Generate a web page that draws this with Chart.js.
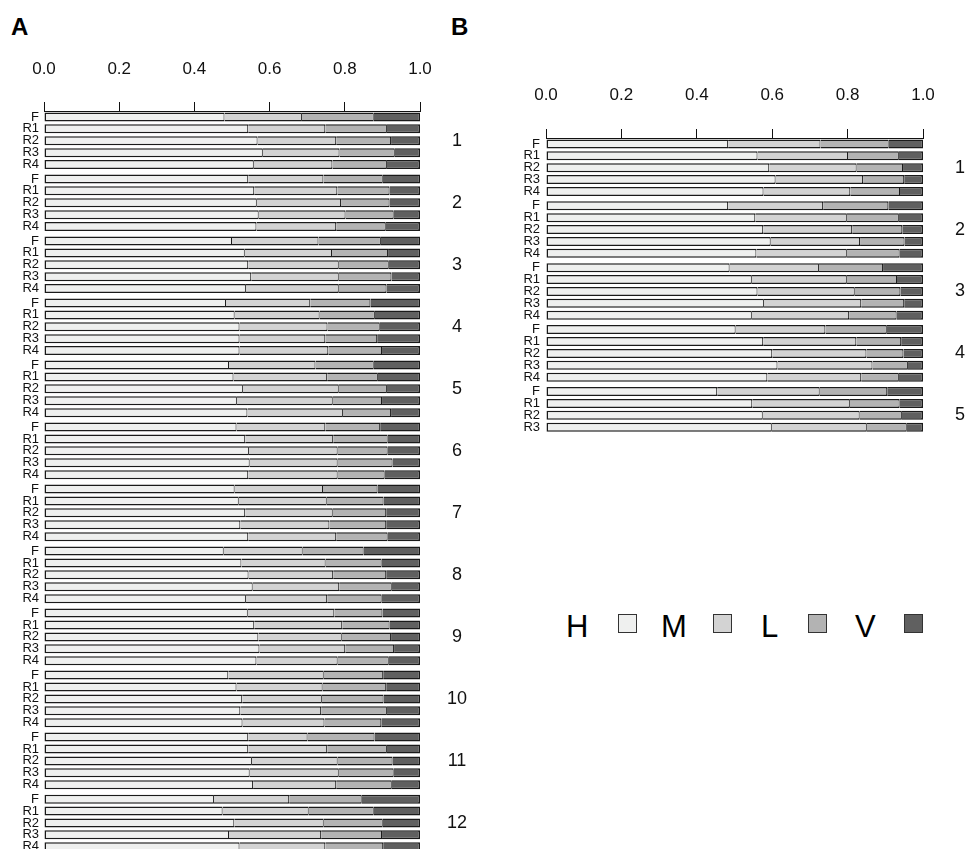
<!DOCTYPE html>
<html>
<head>
<meta charset="utf-8">
<script src="https://cdn.jsdelivr.net/npm/chart.js@4.4.1/dist/chart.umd.min.js"></script>
<style>
html,body{margin:0;padding:0;width:965px;height:849px;overflow:hidden;background:#fff;font-family:"Liberation Sans",Arial,sans-serif;}
#ca{position:absolute;left:0;top:0;}
#cb{position:absolute;left:480px;top:0;}
.title{position:absolute;font-weight:bold;font-size:24px;line-height:24px;color:#000;}
.lt{position:absolute;font-size:31px;line-height:31px;color:#000;top:611px;}
.lb{position:absolute;top:614px;width:17px;height:17px;border:1px solid #333;}
</style>
</head>
<body>
<div class="title" style="left:11px;top:15px;">A</div>
<div class="title" style="left:451px;top:15px;">B</div>
<canvas id="ca" width="480" height="849"></canvas>
<canvas id="cb" width="520" height="435"></canvas>
<div id="legend"></div>
<script>
// ---------- shared ----------
const ROW_LABELS = ['F', 'R1', 'R2', 'R3', 'R4'];
const SERIES = ['H', 'M', 'L', 'V'];
const COLORS = ['#eff0ef', '#d3d3d3', '#b3b3b3', '#606060'];
const X_TICKS = [0, 0.2, 0.4, 0.6, 0.8, 1.0];

// ---------- panel A ----------
const A_GROUPS = ['1','2','3','4','5','6','7','8','9','10','11','12'];
const A_SIZES = [5,5,5,5,5,5,5,5,5,5,5,5];
const A_H = [
  0.480,0.543,0.568,0.582,0.558,  0.543,0.559,0.566,0.571,0.565,
  0.500,0.534,0.543,0.551,0.537,  0.484,0.507,0.520,0.520,0.520,
  0.492,0.504,0.529,0.513,0.541,  0.512,0.535,0.545,0.547,0.543,
  0.507,0.518,0.535,0.522,0.543,  0.478,0.525,0.544,0.555,0.537,
  0.542,0.559,0.570,0.573,0.565,  0.490,0.512,0.527,0.522,0.528,
  0.543,0.543,0.553,0.547,0.556,  0.452,0.475,0.506,0.492,0.520
];
const A_M = [
  0.206,0.205,0.209,0.204,0.209,  0.200,0.221,0.224,0.231,0.212,
  0.230,0.232,0.241,0.233,0.247,  0.224,0.226,0.234,0.228,0.236,
  0.230,0.249,0.255,0.255,0.254,  0.236,0.234,0.236,0.234,0.238,
  0.235,0.234,0.233,0.237,0.234,  0.210,0.224,0.225,0.230,0.216,
  0.230,0.234,0.222,0.228,0.216,  0.254,0.229,0.212,0.215,0.218,
  0.158,0.210,0.228,0.237,0.221,  0.200,0.229,0.238,0.245,0.228
];
const A_L = [
  0.191,0.164,0.146,0.147,0.145,  0.158,0.139,0.129,0.128,0.132,
  0.166,0.149,0.133,0.140,0.127,  0.160,0.147,0.139,0.138,0.143,
  0.155,0.135,0.128,0.131,0.128,  0.146,0.145,0.133,0.146,0.125,
  0.145,0.151,0.142,0.151,0.137,  0.162,0.149,0.141,0.140,0.145,
  0.128,0.126,0.131,0.130,0.136,  0.158,0.169,0.164,0.175,0.151,
  0.178,0.159,0.146,0.146,0.148,  0.193,0.173,0.157,0.162,0.154
];
const A_V = [
  0.123,0.088,0.077,0.067,0.088,  0.099,0.081,0.081,0.070,0.091,
  0.104,0.085,0.083,0.076,0.089,  0.132,0.120,0.107,0.114,0.101,
  0.123,0.112,0.088,0.101,0.077,  0.106,0.086,0.086,0.073,0.094,
  0.113,0.097,0.090,0.090,0.086,  0.150,0.102,0.090,0.075,0.102,
  0.100,0.081,0.077,0.069,0.083,  0.098,0.090,0.097,0.088,0.103,
  0.121,0.088,0.073,0.070,0.075,  0.155,0.123,0.099,0.101,0.098
];

// ---------- panel B ----------
const B_GROUPS = ['1','2','3','4','5'];
const B_SIZES = [5,5,5,5,4];
const B_H = [
  0.483,0.561,0.592,0.609,0.577,  0.483,0.555,0.576,0.596,0.558,
  0.487,0.546,0.561,0.578,0.546,  0.503,0.576,0.600,0.614,0.587,
  0.454,0.547,0.575,0.599
];
const B_M = [
  0.245,0.240,0.232,0.232,0.230,  0.252,0.243,0.236,0.237,0.240,
  0.237,0.252,0.258,0.258,0.258,  0.238,0.247,0.250,0.252,0.249,
  0.272,0.259,0.257,0.252
];
const B_L = [
  0.181,0.135,0.123,0.109,0.132,  0.173,0.138,0.133,0.118,0.140,
  0.170,0.133,0.121,0.114,0.126,  0.163,0.119,0.098,0.094,0.100,
  0.179,0.132,0.112,0.106
];
const B_V = [
  0.091,0.064,0.053,0.050,0.061,  0.092,0.064,0.055,0.049,0.062,
  0.106,0.069,0.060,0.050,0.070,  0.096,0.058,0.052,0.040,0.064,
  0.095,0.062,0.056,0.043
];

const GROUP_STEP = 5.21;   // rows per group incl. small gap

function layoutRows(sizes) {
  const pos = [], rowIdx = [], centers = [];
  sizes.forEach((n, g) => {
    for (let r = 0; r < n; r++) { pos.push(g * GROUP_STEP + r); rowIdx.push(r); }
    centers.push(g * GROUP_STEP + 2);
  });
  return {pos, rowIdx, centers};
}

function borderFor(k) {
  const b = 1.5;
  if (k === 0) return {top: b, bottom: b, left: b, right: 1};
  if (k === SERIES.length - 1) return {top: b, bottom: b, left: 0, right: b};
  return {top: b, bottom: b, left: 0, right: 1};
}

function makePanel(canvasId, sizes, groups, values, L) {
  const {pos, rowIdx, centers} = layoutRows(sizes);
  const datasets = SERIES.map((name, k) => ({
    label: name,
    data: values[k].map((v, i) => ({x: v, y: pos[i]})),
    backgroundColor: COLORS[k],
    borderColor: '#1a1a1a',
    borderWidth: borderFor(k),
    borderSkipped: false,
    inflateAmount: 0,
    barThickness: 9
  }));
  const zeroPad = s => { s.paddingTop = 0; s.paddingBottom = 0; s.paddingLeft = 0; s.paddingRight = 0; };
  return new Chart(document.getElementById(canvasId), {
    type: 'bar',
    data: {datasets},
    options: {
      indexAxis: 'y',
      responsive: false,
      animation: false,
      events: [],
      devicePixelRatio: 1,
      layout: {padding: 0},
      plugins: {legend: {display: false}, tooltip: {enabled: false}},
      scales: {
        x: {
          type: 'linear', position: 'top', min: 0, max: 1, stacked: true, offset: false,
          afterBuildTicks: s => { s.ticks = X_TICKS.map(v => ({value: v})); },
          ticks: {padding: L.xPad, color: '#111', font: {size: 17}, maxRotation: 0, autoSkip: false,
                  callback: v => Number(v).toFixed(1)},
          grid: {drawOnChartArea: false, drawTicks: true, tickLength: 9, color: '#111', lineWidth: 1, offset: false},
          border: {display: true, color: '#111', width: 1},
          afterFit: s => { s.height = L.topH; zeroPad(s); }
        },
        y: {
          type: 'linear', position: 'left', reverse: true, min: -0.5, max: L.yMax, stacked: true, offset: false,
          afterBuildTicks: s => { s.ticks = pos.map(v => ({value: v})); },
          ticks: {autoSkip: false, padding: L.yPad, color: '#111', font: {size: 13},
                  callback: (v, i) => ROW_LABELS[rowIdx[i]]},
          grid: {display: false, drawTicks: false, offset: false},
          border: {display: false},
          afterFit: s => { s.width = L.leftW; zeroPad(s); }
        },
        g: {
          type: 'linear', axis: 'y', position: 'right', reverse: true, min: -0.5, max: L.yMax, offset: false,
          afterBuildTicks: s => { s.ticks = centers.map(v => ({value: v})); },
          ticks: {autoSkip: false, padding: L.gPad, crossAlign: 'center', color: '#111', font: {size: 18},
                  callback: (v, i) => groups[i]},
          grid: {display: false, drawTicks: false, offset: false},
          border: {display: false},
          afterFit: s => { s.width = L.rightW; zeroPad(s); }
        }
      }
    }
  });
}

Chart.defaults.font.family = '"Liberation Sans", Arial, sans-serif';

makePanel('ca', A_SIZES, A_GROUPS, [A_H, A_M, A_L, A_V],
  {topH: 111, leftW: 44, rightW: 60, yMax: 61.5, xPad: 22, yPad: 5, gPad: 27});
makePanel('cb', B_SIZES, B_GROUPS, [B_H, B_M, B_L, B_V],
  {topH: 138, leftW: 66, rightW: 77, yMax: 24.5, xPad: 23, yPad: 6, gPad: 32});

// ---------- legend (text then box) ----------
const LEG_TEXT_X = [566, 661, 761, 855];
const LEG_BOX_X = [618, 713, 808, 904];
const leg = document.getElementById('legend');
SERIES.forEach((name, k) => {
  const t = document.createElement('div');
  t.className = 'lt'; t.textContent = name; t.style.left = LEG_TEXT_X[k] + 'px';
  const b = document.createElement('div');
  b.className = 'lb'; b.style.left = LEG_BOX_X[k] + 'px'; b.style.background = COLORS[k];
  leg.appendChild(t); leg.appendChild(b);
});
</script>
</body>
</html>
